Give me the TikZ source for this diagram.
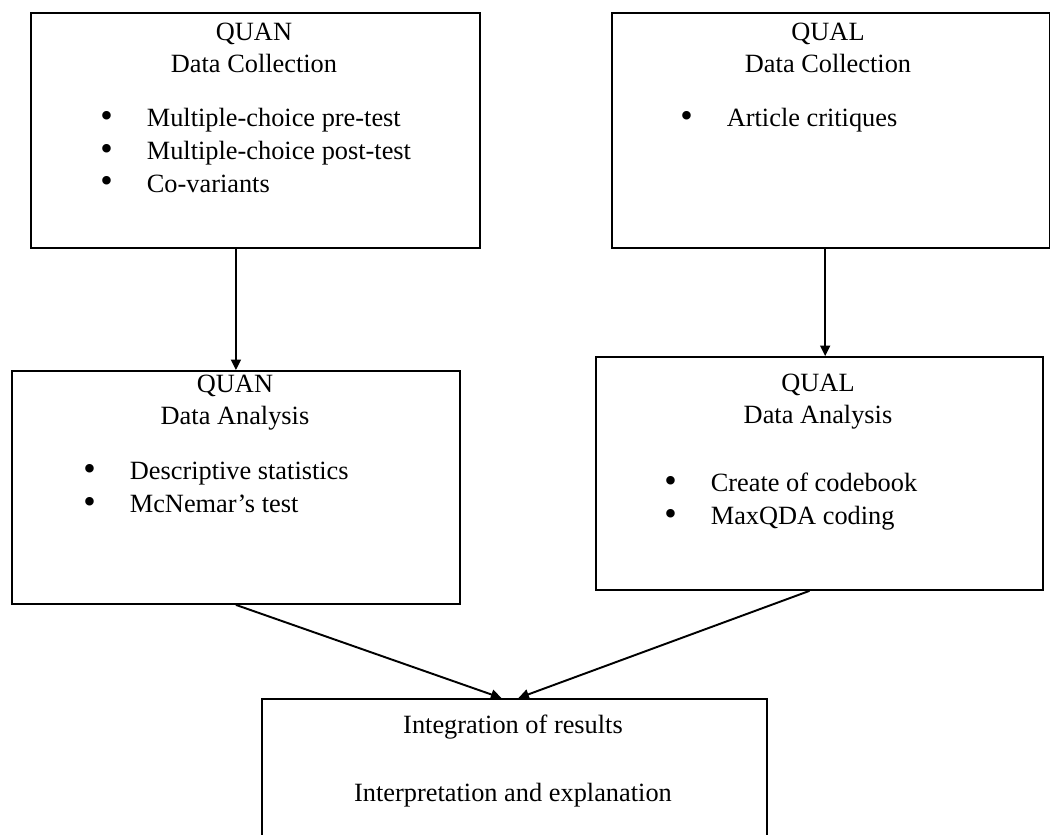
\documentclass[tikz,border=0pt]{standalone}
\usepackage{fontspec}
\setmainfont{Liberation Serif}
\usetikzlibrary{arrows.meta, positioning, calc}
\definecolor{frameblack}{RGB}{0, 0, 0}
\newcommand{\bitem}[1]{\makebox[0.93cm][l]{\raisebox{-0.05ex}{\scalebox{1.35}{\textbullet}}}#1}
\tikzset{
  panel/.style={rectangle, draw=frameblack, line width=1.1pt, anchor=north west, inner sep=0pt},
  heading/.style={align=center, anchor=north, inner sep=0pt, font=\fontsize{15}{18.1}\selectfont},
  itemlist/.style={align=left, anchor=north west, inner sep=0pt, font=\fontsize{15}{18.7}\selectfont},
  arrow/.style={-{Triangle[length=0.21cm, width=0.2cm]}, line width=1.1pt, color=frameblack},
}
\begin{document}
\begin{tikzpicture}[x=0.02cm, y=-0.02cm]
  \useasboundingbox (0,0) rectangle (1050,834);
  % boxes
  \node[panel, minimum width=8.98cm, minimum height=4.70cm] (quancoll) at (30,12) {};
  \node[panel, minimum width=8.76cm, minimum height=4.70cm] (qualcoll) at (611,12) {};
  \node[panel, minimum width=8.96cm, minimum height=4.66cm] (quanana) at (11,370) {};
  \node[panel, minimum width=8.94cm, minimum height=4.66cm] (qualana) at (595,356) {};
  \node[panel, minimum width=10.10cm, minimum height=3.24cm] (integ) at (261,698) {};
  % texts
  \node[heading] (quancolltitle) at (254,23) {QUAN\\Data Collection};
  \node[itemlist] (quancollitems) at (100,108)
       {\bitem{Multiple-choice pre-test}\\
        \bitem{Multiple-choice post-test}\\
        \bitem{Co-variants}};
  \node[heading] (qualcolltitle) at (828,23) {QUAL\\Data Collection};
  \node[itemlist] (qualcollitems) at (680,108) {\bitem{Article critiques}};
  \node[heading] (quananatitle) at (235,375) {QUAN\\Data Analysis};
  \node[itemlist] (quananaitems) at (83,462)
       {\bitem{Descriptive statistics}\\
        \bitem{McNemar’s test}};
  \node[heading] (qualanatitle) at (818,374) {QUAL\\Data Analysis};
  \node[itemlist] (qualanaitems) at (664,473)
       {\bitem{Create of codebook}\\
        \bitem{MaxQDA coding}};
  \node[heading] (integtitle) at (513,715) {Integration of results};
  \node[heading] (integtext) at (513,783) {Interpretation and explanation};
  % arrows
  \coordinate (qualmid) at ($(qualcoll.south)!0.5!(qualana.north)$);
  \draw[arrow] (quanana.north |- quancoll.south) -- (quanana.north);
  \draw[arrow] (qualmid |- qualcoll.south) -- (qualmid |- qualana.north);
  \draw[arrow] (quanana.south) -- ($(integ.north)+(-13,0)$);
  \draw[arrow] ($(qualana.south)+(-10,0)$) -- ($(integ.north)+(4,0)$);
\end{tikzpicture}
\end{document}
